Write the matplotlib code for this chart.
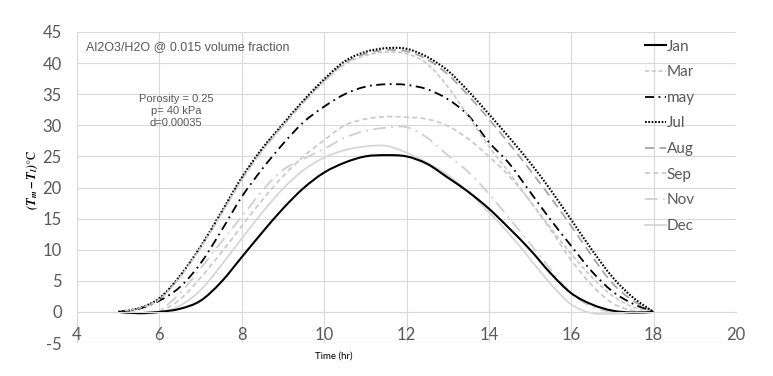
import matplotlib
matplotlib.use("Agg")
import matplotlib.pyplot as plt
from matplotlib.path import Path
from matplotlib.patches import PathPatch
from matplotlib.lines import Line2D
import numpy as np

time_hr = [5, 5.5, 6, 6.5, 7, 7.5, 8, 8.5, 9, 9.5, 10, 10.5, 11, 11.5, 12,
           12.5, 13, 13.5, 14, 14.5, 15, 15.5, 16, 16.5, 17, 17.5, 18]

jan = [0, -0.2, 0.0, 0.5, 1.8, 4.8, 8.8, 12.8, 16.6, 19.9, 22.4, 24.0, 25.0, 25.2, 25.0,
       23.8, 21.6, 19.3, 16.6, 13.4, 10.0, 6.2, 3.0, 1.2, 0.2, -0.1, 0]
mar = [0, 0.6, 2.0, 5.6, 10.3, 15.7, 21.2, 25.9, 29.9, 33.6, 37.0, 39.8, 41.2, 41.8, 41.5,
       39.9, 36.2, 31.5, 26.6, 22.3, 17.8, 13.5, 9.3, 5.6, 2.6, 0.8, 0]
may = [0, 0.5, 1.8, 4.0, 7.8, 13.0, 18.5, 23.0, 27.0, 30.5, 33.0, 35.0, 36.2, 36.6, 36.5,
       35.8, 34.2, 31.6, 27.3, 23.8, 19.3, 14.8, 10.6, 6.5, 3.3, 1.3, 0]
jul = [0, 0.6, 2.2, 5.8, 10.5, 16.0, 21.6, 26.3, 30.2, 34.0, 37.4, 40.3, 41.8, 42.4, 42.3,
       41.0, 38.8, 35.5, 31.8, 28.0, 24.0, 19.6, 14.8, 10.0, 5.6, 2.3, 0]
aug = [0, 0.6, 2.1, 5.7, 10.4, 15.8, 21.4, 26.1, 30.0, 33.8, 37.2, 40.0, 41.5, 42.1, 41.9,
       40.6, 38.2, 34.8, 31.0, 27.0, 22.8, 18.4, 13.8, 9.0, 4.6, 1.8, 0]
sep = [0, -0.2, 0.1, 2.0, 5.5, 9.5, 13.8, 18.0, 21.8, 25.0, 27.6, 30.0, 31.0, 31.4, 31.3,
       31.0, 29.9, 27.8, 25.0, 21.8, 17.8, 13.2, 8.3, 4.3, 1.4, 0.2, 0]
nov = [0, -0.1, 0.3, 3.0, 7.0, 11.2, 15.3, 19.5, 22.8, 24.6, 26.2, 28.0, 29.1, 29.6, 29.7,
       28.0, 25.2, 22.5, 19.0, 15.0, 11.0, 6.8, 3.0, 0.8, 0.0, -0.2, 0]
dec = [0, -0.3, -0.1, 1.0, 3.5, 7.5, 11.8, 16.0, 19.8, 22.8, 24.8, 26.0, 26.6, 26.7, 25.6,
       24.0, 22.0, 19.3, 16.0, 12.5, 8.5, 4.5, 1.2, -0.2, -0.3, -0.2, 0]

x_ticks = [4, 6, 8, 10, 12, 14, 16, 18, 20]
y_ticks = [-5, 0, 5, 10, 15, 20, 25, 30, 35, 40, 45]

plt.rcParams["axes.unicode_minus"] = False
plt.rcParams["mathtext.fontset"] = "stix"


def smooth_path(xs, ys):
    """Excel-like smoothed line: Catmull-Rom segments drawn as cubic Beziers."""
    p = np.column_stack([xs, ys]).astype(float)
    n = len(p)
    verts = [p[0]]
    codes = [Path.MOVETO]
    for i in range(n - 1):
        p0 = p[i - 1] if i > 0 else p[i]
        p1, p2 = p[i], p[i + 1]
        p3 = p[i + 2] if i + 2 < n else p[i + 1]
        c1 = p1 + (p2 - p0) / 6.0
        c2 = p2 - (p3 - p1) / 6.0
        verts += [c1, c2, p2]
        codes += [Path.CURVE4] * 3
    return Path(verts, codes)


W, H = 773, 376
fig = plt.figure(figsize=(W / 100, H / 100), dpi=100)
ax = fig.add_axes([77 / W, 1 - 343 / H, (736 - 77) / W, (343 - 32) / H])

series = [
    ("Jan", jan, dict(color="#000000", lw=1.5, ls="-")),
    ("Mar", mar, dict(color="#C8C8C8", lw=1.2, ls=(0, (2.5, 1.5)))),
    ("may", may, dict(color="#000000", lw=1.3, ls=(0, (5, 2.5, 1, 2.5)))),
    ("Jul", jul, dict(color="#000000", lw=1.5, ls=(0, (0.8, 0.8)))),
    ("Aug", aug, dict(color="#A6A6A6", lw=1.3, ls=(0, (5, 3)))),
    ("Sep", sep, dict(color="#C8C8C8", lw=1.2, ls=(0, (3, 2)))),
    ("Nov", nov, dict(color="#CFCFCF", lw=1.3, ls=(0, (7, 3, 1, 3)))),
    ("Dec", dec, dict(color="#D6D6D6", lw=1.3, ls="-")),
]
handles = []
for name, vals, st in reversed(series):
    patch = PathPatch(smooth_path(time_hr, vals), fill=False, edgecolor=st["color"],
                      lw=st["lw"], ls=st["ls"], capstyle="butt", joinstyle="round",
                      transform=ax.transData)
    ax.add_patch(patch)
for name, vals, st in series:
    handles.append(Line2D([], [], color=st["color"], lw=st["lw"], ls=st["ls"], label=name))

ax.set_xlim(4, 20)
ax.set_ylim(-5, 45)
ax.set_xticks(x_ticks)
ax.set_yticks(y_ticks)
ax.grid(True, color="#D9D9D9", lw=0.8)
ax.set_axisbelow(True)
for s in ["top", "right", "left"]:
    ax.spines[s].set_visible(False)
ax.spines["bottom"].set_position(("data", 0))
ax.spines["bottom"].set_color("#D9D9D9")
ax.spines["bottom"].set_linewidth(0.8)
ax.axhline(-5, color="#D9D9D9", lw=0.8, zorder=0)
ax.tick_params(axis="both", length=0, labelsize=12, labelcolor="#595959")
ax.tick_params(axis="y", pad=11)
ax.tick_params(axis="x", pad=11)
for lab in ax.get_xticklabels() + ax.get_yticklabels():
    lab.set_fontfamily("Lato")

fig.text(86 / W, 1 - 47 / H, "Al2O3/H2O @ 0.015 volume fraction", fontsize=9,
         color="#595959", family="Liberation Sans", va="center", ha="left")
fig.text(176 / W, 1 - 111 / H, "Porosity = 0.25\np= 40 kPa\nd=0.00035", fontsize=8,
         color="#595959", family="Liberation Sans", va="center", ha="center",
         multialignment="center", linespacing=1.3)

fig.text(33 / W, 1 - 180 / H, r"$\mathbfit{(T_m - T_l)}$°C", rotation=90,
         fontsize=9, color="#000000", va="center", ha="center", family="STIXGeneral")
fig.text(334 / W, 1 - 356 / H, "Time (hr)", fontsize=7, color="#000000",
         va="center", ha="center", family="Lato")

leg = ax.legend(handles=handles, loc="upper left", bbox_to_anchor=(637 / W, 1 - 32 / H),
                bbox_transform=fig.transFigure, frameon=False, borderpad=0,
                handlelength=1.4, handletextpad=0.05, labelspacing=0.76,
                prop={"family": "Lato", "size": 11})
for t in leg.get_texts():
    t.set_color("#595959")

fig.savefig("out.png", dpi=100)
